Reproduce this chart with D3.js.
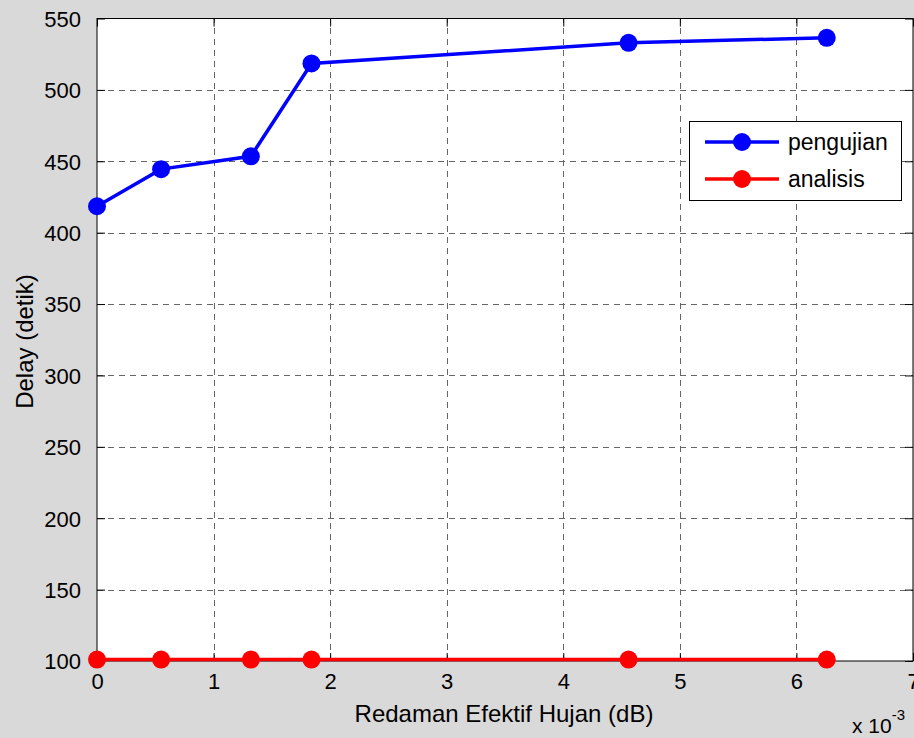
<!DOCTYPE html>
<html>
<head>
<meta charset="utf-8">
<script src="https://cdn.jsdelivr.net/npm/d3@7"></script>
<style>
  html, body { margin: 0; padding: 0; background: #d9d9d9; }
  svg { display: block; }
  text { font-family: "Liberation Sans", Arial, Helvetica, sans-serif; fill: #000; }
</style>
</head>
<body>
<svg id="chart" width="914" height="738"></svg>
<script>
// Data (x in units of 1e-3 dB)
const xValues = [0, 0.55, 1.32, 1.84, 4.56, 6.26];
const pengujian = [418.5, 444.5, 453.5, 518.5, 533, 536.5];
const analisis = [101, 101, 101, 101, 101, 101];
const xTicks = [0, 1, 2, 3, 4, 5, 6, 7];
const yTicks = [100, 150, 200, 250, 300, 350, 400, 450, 500, 550];
const seriesNames = ["pengujian", "analisis"];
const seriesColors = ["#0000ff", "#ff0000"];

const svg = d3.select("#chart");
const L = 97, R = 913, T = 18.5, B = 661;

const x = d3.scaleLinear().domain([0, 7]).range([L, R]);
const y = d3.scaleLinear().domain([100, 550]).range([B, T]);

// plot background
svg.append("rect").attr("x", L).attr("y", T).attr("width", R - L).attr("height", B - T).attr("fill", "#fff");

// grid
const grid = svg.append("g").attr("stroke", "#333").attr("stroke-width", 1).attr("stroke-dasharray", "6,5").attr("opacity", 0.75);
xTicks.slice(1, -1).forEach(t => {
  grid.append("line").attr("x1", Math.round(x(t)) + 0.5).attr("x2", Math.round(x(t)) + 0.5).attr("y1", B).attr("y2", T);
});
yTicks.slice(1, -1).forEach(t => {
  grid.append("line").attr("y1", Math.round(y(t)) + 0.5).attr("y2", Math.round(y(t)) + 0.5).attr("x1", L).attr("x2", R);
});

// axes with inward ticks on all sides
const tickLen = 8;
const axB = svg.append("g").attr("transform", `translate(0,${B})`)
  .call(d3.axisBottom(x).tickValues(xTicks).tickSize(-tickLen).tickFormat(d3.format("d")));
const axT = svg.append("g").attr("transform", `translate(0,${T})`)
  .call(d3.axisTop(x).tickValues(xTicks).tickSize(-tickLen).tickFormat(""));
const axL = svg.append("g").attr("transform", `translate(${L},0)`)
  .call(d3.axisLeft(y).tickValues(yTicks).tickSize(-tickLen).tickPadding(tickLen + 8).tickFormat(d3.format("d")));
const axR = svg.append("g").attr("transform", `translate(${R},0)`)
  .call(d3.axisRight(y).tickValues(yTicks).tickSize(-tickLen).tickFormat(""));
[axB, axT, axL, axR].forEach(a => {
  a.select(".domain").remove();
  a.selectAll("line").attr("stroke", "#000");
  a.selectAll("text").style("font-size", "22px").attr("font-family", "Liberation Sans, Arial, sans-serif");
});
axB.selectAll("text").attr("y", 28).attr("dy", null);
axL.selectAll("text").attr("dy", "0.36em");
svg.append("rect").attr("x", L).attr("y", T).attr("width", R - L).attr("height", B - T)
  .attr("fill", "none").attr("stroke", "#000").attr("stroke-width", 1);

// series
const line = d3.line().x((d, i) => x(xValues[i])).y(d => y(d));
[pengujian, analisis].forEach((s, k) => {
  svg.append("path").datum(s).attr("d", line).attr("fill", "none")
    .attr("stroke", seriesColors[k]).attr("stroke-width", 3.5);
  svg.append("g").selectAll("circle").data(s).join("circle")
    .attr("cx", (d, i) => x(xValues[i])).attr("cy", d => y(d)).attr("r", 9)
    .attr("fill", seriesColors[k]);
});

// labels
svg.append("text").attr("x", 504).attr("y", 722).attr("text-anchor", "middle")
  .style("font-size", "24px").text("Redaman Efektif Hujan (dB)");
svg.append("text").attr("transform", `translate(33,341.5) rotate(-90)`).attr("text-anchor", "middle")
  .style("font-size", "24px").text("Delay (detik)");
const exp = svg.append("text").attr("x", 852).attr("y", 733).style("font-size", "21px");
exp.append("tspan").text("x 10");
exp.append("tspan").attr("dy", -13).style("font-size", "15px").text("-3");

// legend
const lg = svg.append("g");
lg.append("rect").attr("x", 689.5).attr("y", 121.5).attr("width", 212).attr("height", 79)
  .attr("fill", "#fff").attr("stroke", "#000").attr("stroke-width", 1);
seriesNames.forEach((n, k) => {
  const cy = 142 + k * 37;
  lg.append("line").attr("x1", 705).attr("x2", 779).attr("y1", cy).attr("y2", cy)
    .attr("stroke", seriesColors[k]).attr("stroke-width", 3.5);
  lg.append("circle").attr("cx", 742).attr("cy", cy).attr("r", 9).attr("fill", seriesColors[k]);
  lg.append("text").attr("x", 788).attr("y", cy + 8).style("font-size", "23px").text(n);
});
</script>
</body>
</html>
